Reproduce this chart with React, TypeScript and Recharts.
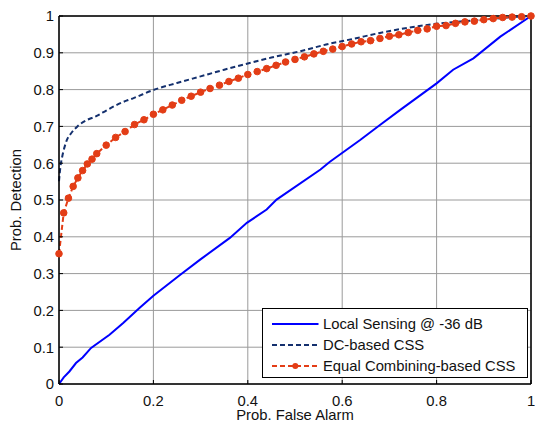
import React from 'react';
import { LineChart, Line, XAxis, YAxis, CartesianGrid, ReferenceLine } from 'recharts';

const xTicks = [0, 0.2, 0.4, 0.6, 0.8, 1];
const yTicks = [0, 0.1, 0.2, 0.3, 0.4, 0.5, 0.6, 0.7, 0.8, 0.9, 1];

const seriesNames = ['Local Sensing @ -36 dB', 'DC-based CSS', 'Equal Combining-based CSS'];

const localPfa = [0, 0.01, 0.022, 0.036, 0.05, 0.068, 0.107, 0.136, 0.171, 0.2, 0.257, 0.299, 0.362, 0.398, 0.44, 0.461, 0.554, 0.574, 0.638, 0.68, 0.723, 0.8, 0.835, 0.878, 0.935, 1];
const localPd = [0, 0.018, 0.034, 0.057, 0.072, 0.098, 0.134, 0.166, 0.207, 0.24, 0.297, 0.338, 0.397, 0.438, 0.474, 0.501, 0.583, 0.604, 0.663, 0.704, 0.745, 0.817, 0.854, 0.885, 0.944, 1];

const dcPfa = [0, 0.003, 0.007, 0.012, 0.017, 0.025, 0.039, 0.06, 0.074, 0.1, 0.117, 0.143, 0.158, 0.2, 0.25, 0.3, 0.35, 0.4, 0.45, 0.51, 0.574, 0.62, 0.68, 0.74, 0.8, 0.85, 0.9, 0.95, 1];
const dcPd = [0.551, 0.59, 0.619, 0.645, 0.664, 0.68, 0.7, 0.718, 0.725, 0.743, 0.755, 0.77, 0.777, 0.799, 0.818, 0.836, 0.854, 0.871, 0.887, 0.904, 0.925, 0.937, 0.954, 0.968, 0.979, 0.985, 0.99, 0.996, 1];

const ecPfa = [0, 0.01, 0.02, 0.03, 0.04, 0.05, 0.06, 0.07, 0.08, 0.1, 0.12, 0.14, 0.16, 0.18, 0.2, 0.22, 0.24, 0.26, 0.28, 0.3, 0.32, 0.34, 0.36, 0.38, 0.4, 0.42, 0.44, 0.46, 0.48, 0.5, 0.52, 0.54, 0.56, 0.58, 0.6, 0.62, 0.64, 0.66, 0.68, 0.7, 0.72, 0.74, 0.76, 0.78, 0.8, 0.82, 0.84, 0.86, 0.88, 0.9, 0.92, 0.94, 0.96, 0.98, 1];
const ecPd = [0.354, 0.465, 0.505, 0.537, 0.56, 0.58, 0.598, 0.611, 0.626, 0.649, 0.67, 0.686, 0.705, 0.718, 0.733, 0.745, 0.758, 0.771, 0.782, 0.793, 0.803, 0.812, 0.822, 0.831, 0.841, 0.849, 0.857, 0.866, 0.875, 0.882, 0.889, 0.897, 0.904, 0.91, 0.917, 0.924, 0.93, 0.933, 0.939, 0.945, 0.949, 0.955, 0.961, 0.965, 0.972, 0.974, 0.98, 0.984, 0.986, 0.99, 0.993, 0.996, 0.997, 0.998, 1];

const zip = (xs: number[], ys: number[]) => xs.map((x, i) => ({ pfa: x, pd: ys[i] }));
const localData = zip(localPfa, localPd);
const dcData = zip(dcPfa, dcPd);
const ecData = zip(ecPfa, ecPd);

const BLUE = '#0000ff';
const NAVY = '#14306e';
const RED = '#e33d16';
const FONT = '"Liberation Sans", Arial, sans-serif';
const FS = 14.8;

const XTick = (props: any) => {
  const { x, y, payload } = props;
  return (
    <g>
      <line x1={x} y1={y} x2={x} y2={y - 4} stroke="#000" strokeWidth={1} />
      <text x={x} y={y + 21.5} textAnchor="middle" fontSize={FS} fontFamily={FONT} fill="#111">
        {String(payload.value)}
      </text>
    </g>
  );
};

const YTick = (props: any) => {
  const { x, y, payload } = props;
  return (
    <g>
      <line x1={x} y1={y} x2={x + 4} y2={y} stroke="#000" strokeWidth={1} />
      <text x={x - 5} y={y + 5.3} textAnchor="end" fontSize={FS} fontFamily={FONT} fill="#111">
        {String(payload.value)}
      </text>
    </g>
  );
};

const LegendBox = () => (
  <div
    style={{
      position: 'absolute',
      left: 262,
      top: 308,
      width: 266,
      height: 70,
      border: '1.5px solid #000',
      background: '#fff',
      boxSizing: 'border-box',
      fontFamily: FONT,
      fontSize: FS,
      color: '#111',
    }}
  >
    {seriesNames.map((name, i) => (
      <div key={name} style={{ position: 'absolute', left: 0, top: 4.5 + i * 21.3, height: 20, display: 'flex', alignItems: 'center' }}>
        <svg width={58} height={20} style={{ display: 'block' }}>
          {i === 0 && <line x1={9} y1={10} x2={55.5} y2={10} stroke={BLUE} strokeWidth={2} />}
          {i === 1 && <line x1={9} y1={10} x2={55.5} y2={10} stroke={NAVY} strokeWidth={2} strokeDasharray="5 3" />}
          {i === 2 && (
            <g>
              <line x1={9} y1={10} x2={55.5} y2={10} stroke={RED} strokeWidth={2} strokeDasharray="5 3" />
              <circle cx={32.3} cy={10} r={3} fill={RED} />
            </g>
          )}
        </svg>
        <span style={{ marginLeft: 2, whiteSpace: 'nowrap' }}>{name}</span>
      </div>
    ))}
  </div>
);

export default function App() {
  return (
    <div style={{ position: 'absolute', left: 0, top: 0, width: 535, height: 423, background: '#fff' }}>
      <LineChart width={535} height={423} margin={{ top: 16, right: 4, bottom: 0, left: 0 }}>
        <CartesianGrid stroke="#9a9a9a" strokeWidth={1} horizontalValues={yTicks} verticalValues={xTicks} />
        <XAxis
          dataKey="pfa"
          type="number"
          domain={[0, 1]}
          ticks={xTicks}
          allowDuplicatedCategory={false}
          height={39}
          tickSize={0}
          tickMargin={0}
          tick={<XTick />}
          axisLine={{ stroke: '#000', strokeWidth: 1.5 }}
          interval={0}
        />
        <YAxis
          type="number"
          domain={[0, 1]}
          ticks={yTicks}
          width={59}
          tickSize={0}
          tickMargin={0}
          tick={<YTick />}
          axisLine={{ stroke: '#000', strokeWidth: 1.5 }}
          interval={0}
        />
        <ReferenceLine y={1} stroke="#000" strokeWidth={1.5} />
        <ReferenceLine x={1} stroke="#000" strokeWidth={1.5} />
        <Line data={localData} dataKey="pd" type="linear" stroke={BLUE} strokeWidth={2} dot={false} isAnimationActive={false} name={seriesNames[0]} />
        <Line data={dcData} dataKey="pd" type="monotone" stroke={NAVY} strokeWidth={2} strokeDasharray="5 3" dot={false} isAnimationActive={false} name={seriesNames[1]} />
        <Line
          data={ecData}
          dataKey="pd"
          type="linear"
          stroke={RED}
          strokeWidth={2}
          strokeDasharray="5 3"
          dot={{ r: 3.3, fill: RED, stroke: RED, strokeWidth: 1, strokeDasharray: '' }}
          isAnimationActive={false}
          name={seriesNames[2]}
        />
        <text x={295} y={420} textAnchor="middle" fontSize={FS} fontFamily={FONT} fill="#111">
          Prob. False Alarm
        </text>
        <text x={21} y={200} textAnchor="middle" fontSize={FS} fontFamily={FONT} fill="#111" transform="rotate(-90 21 200)">
          Prob. Detection
        </text>
      </LineChart>
      <LegendBox />
    </div>
  );
}
